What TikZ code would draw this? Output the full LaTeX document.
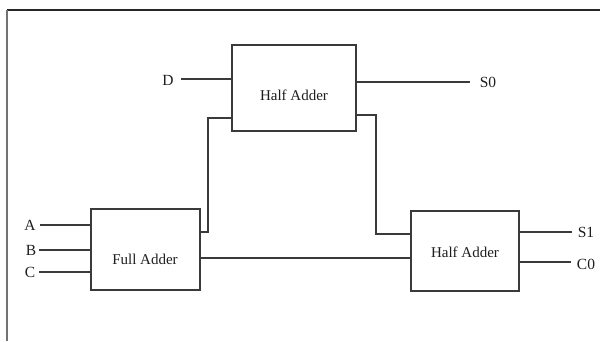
\documentclass[tikz,border=0pt]{standalone}
\usepackage{fontspec}
\setmainfont{Liberation Serif}
\usetikzlibrary{calc}
\definecolor{ln}{HTML}{3A3A3A}
\definecolor{tx}{HTML}{1E1E1E}
\begin{document}
\begin{tikzpicture}[x=1pt,y=-1pt,
  wire/.style={draw=ln,line width=1.1pt},
  blk/.style={draw=ln,line width=1.1pt,rectangle,inner sep=0pt},
  lbl/.style={text=tx,font=\fontsize{15}{18}\selectfont,inner sep=0pt},
  pin/.style={text=tx,font=\fontsize{15.5}{18}\selectfont,inner sep=0pt}]
\useasboundingbox (0,0) rectangle (600,341);
% frame
\draw[draw=black!85,line width=1.2pt] (7,10) -- (600,10);
\draw[draw=black!55,line width=1.6pt] (7,10) -- (7,341);
% blocks
\node[blk,minimum width=124pt,minimum height=86pt] (ha1) at (294,88) {};
\node[lbl] (ha1t) at (294,95) {Half Adder};
\node[blk,minimum width=109pt,minimum height=81pt] (fa) at (145.5,249.5) {};
\node[lbl] (fat) at (145,259) {Full Adder};
\node[blk,minimum width=108pt,minimum height=80pt] (ha2) at (465,251) {};
\node[lbl] (ha2t) at (465,252) {Half Adder};
% pins
\node[pin] (D) at (168,80) {D};
\node[pin] (S0) at (488,82) {S0};
\node[pin] (A) at (30,225) {A};
\node[pin] (B) at (31,250) {B};
\node[pin] (C) at (30,272) {C};
\node[pin] (S1) at (586,232) {S1};
\node[pin] (C0) at (586,264) {C0};
% wires
\draw[wire] ($(D.east)+(7,-1)$) -- (ha1.west |- 0,79);
\draw[wire] (ha1.east |- 0,82) -- ($(S0.west)+(-10,0)$);
\draw[wire] (ha1.west |- 0,118) -- (208,118) |- (fa.east |- 0,232);
\draw[wire] (ha1.east |- 0,115) -- (376,115) |- (ha2.west |- 0,234);
\draw[wire] (fa.east |- 0,258) -- (ha2.west |- 0,258);
\draw[wire] ($(A.east)+(4,0)$) -- (fa.west |- A);
\draw[wire] ($(B.east)+(3,0)$) -- (fa.west |- B);
\draw[wire] ($(C.east)+(4,0)$) -- (fa.west |- C);
\draw[wire] (ha2.east |- 0,232) -- ($(S1.west)+(-6,0)$);
\draw[wire] (ha2.east |- 0,262) -- ($(C0.west)+(-6,-2)$);
\end{tikzpicture}
\end{document}
